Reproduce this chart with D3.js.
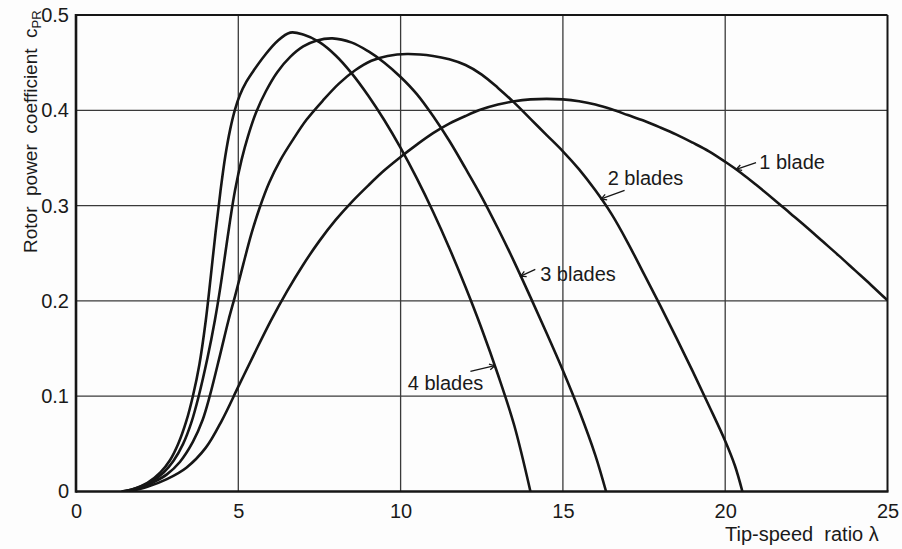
<!DOCTYPE html>
<html><head><meta charset="utf-8">
<script src="https://cdn.jsdelivr.net/npm/d3@7"></script>
<style>
body{margin:0;background:#fff}
text{font-family:"Liberation Sans",Arial,sans-serif;fill:#1a1a1a}
</style>
</head><body>
<svg id="chart" width="902" height="549"></svg>
<script>
// ---- data ----
const xTicks = [0, 5, 10, 15, 20, 25];
const xTickLabels = ["0", "5", "10", "15", "20", "25"];
const yTicks = [0, 0.1, 0.2, 0.3, 0.4, 0.5];
const yTickLabels = ["0", "0.1", "0.2", "0.3", "0.4", "0.5"];
const seriesNames = ["1 blade", "2 blades", "3 blades", "4 blades"];

const lambda1 = [1.6, 2.2, 2.8, 3.4, 4.0, 4.5, 5.0, 5.5, 6.0, 6.5, 7.0, 7.5, 8.0, 8.5, 9.0, 9.5, 10.0, 10.5, 11.0, 11.5, 12.0, 12.5, 13.0, 13.5, 14.0, 14.5, 15.0, 15.5, 16.0, 16.5, 17.0, 17.5, 18.0, 18.5, 19.0, 19.5, 20.0, 20.5, 21.0, 21.5, 22.0, 22.5, 23.0, 23.5, 24.0, 24.5, 25.0];
const cp1     = [0, 0.005, 0.013, 0.025, 0.046, 0.075, 0.110, 0.145, 0.179, 0.210, 0.238, 0.263, 0.285, 0.304, 0.321, 0.337, 0.351, 0.364, 0.376, 0.386, 0.394, 0.401, 0.406, 0.4095, 0.4115, 0.412, 0.4115, 0.4095, 0.406, 0.401, 0.395, 0.389, 0.382, 0.3745, 0.366, 0.357, 0.346, 0.334, 0.3205, 0.3065, 0.292, 0.2775, 0.2625, 0.2475, 0.232, 0.2165, 0.2005];

const lambda2 = [1.5, 2.0, 2.4, 2.8, 3.2, 3.6, 3.9, 4.12, 4.45, 4.7, 4.9, 5.15, 5.4, 5.65, 5.95, 6.3, 6.7, 7.1, 7.6, 8.1, 8.6, 9.1, 9.6, 10.2, 11.0, 11.5, 12.0, 12.5, 13.0, 13.5, 14.0, 14.5, 15.0, 15.5, 16.0, 16.5, 17.0, 17.5, 18.0, 18.5, 19.0, 19.5, 20.0, 20.3, 20.53];
const cp2     = [0, 0.004, 0.01, 0.018, 0.031, 0.052, 0.075, 0.1, 0.145, 0.18, 0.205, 0.238, 0.27, 0.297, 0.324, 0.348, 0.37, 0.39, 0.41, 0.428, 0.442, 0.452, 0.457, 0.459, 0.457, 0.4535, 0.4475, 0.4375, 0.4235, 0.408, 0.391, 0.374, 0.357, 0.338, 0.316, 0.291, 0.261, 0.228, 0.195, 0.161, 0.126, 0.09, 0.053, 0.027, 0];

const lambda3 = [1.45, 1.9, 2.3, 2.7, 3.0, 3.3, 3.55, 3.78, 4.05, 4.28, 4.45, 4.6, 4.75, 4.9, 5.1, 5.3, 5.55, 5.85, 6.2, 6.6, 7.0, 7.4, 7.9, 8.5, 9.0, 9.5, 10.0, 10.5, 11.0, 11.5, 12.0, 12.5, 13.0, 13.5, 14.0, 14.5, 15.0, 15.5, 16.0, 16.33];
const cp3     = [0, 0.004, 0.01, 0.02, 0.032, 0.05, 0.072, 0.1, 0.14, 0.18, 0.215, 0.25, 0.285, 0.316, 0.348, 0.373, 0.398, 0.42, 0.44, 0.456, 0.467, 0.473, 0.4755, 0.471, 0.462, 0.45, 0.435, 0.417, 0.394, 0.368, 0.339, 0.309, 0.276, 0.241, 0.204, 0.166, 0.127, 0.085, 0.038, 0];

const lambda4 = [1.4, 1.8, 2.2, 2.6, 2.9, 3.15, 3.4, 3.6, 3.8, 4.0, 4.15, 4.3, 4.45, 4.6, 4.75, 4.9, 5.05, 5.25, 5.5, 5.8, 6.2, 6.6, 7.0, 7.5, 8.0, 8.5, 9.0, 9.5, 10.0, 10.5, 11.0, 11.5, 12.0, 12.5, 13.0, 13.5, 14.0];
const cp4     = [0, 0.003, 0.009, 0.02, 0.033, 0.05, 0.074, 0.1, 0.133, 0.18, 0.225, 0.272, 0.315, 0.352, 0.38, 0.401, 0.416, 0.43, 0.443, 0.457, 0.4725, 0.4815, 0.4795, 0.4715, 0.4575, 0.4385, 0.4155, 0.3895, 0.3605, 0.3285, 0.2935, 0.2555, 0.2145, 0.1705, 0.1225, 0.0695, 0];

const seriesLambda = [lambda1, lambda2, lambda3, lambda4];
const seriesCp = [cp1, cp2, cp3, cp4];

// ---- layout ----
const svg = d3.select("#chart");
const pL = 76, pR = 887.5, pT = 15, pB = 491.5;
const x = d3.scaleLinear().domain([0, 25]).range([pL, pR]);
const y = d3.scaleLinear().domain([0, 0.5]).range([pB, pT]);
const ink = "#161616";

svg.append("rect").attr("width", 902).attr("height", 549).attr("fill", "#fdfdfd");

// grid
const g = svg.append("g");
g.selectAll("line.vx").data(xTicks.slice(1, -1)).join("line")
  .attr("x1", d => x(d)).attr("x2", d => x(d)).attr("y1", pT).attr("y2", pB)
  .attr("stroke", "#3a3a3a").attr("stroke-width", 1.3);
g.selectAll("line.hy").data(yTicks.slice(1, -1)).join("line")
  .attr("x1", pL).attr("x2", pR).attr("y1", d => y(d)).attr("y2", d => y(d))
  .attr("stroke", "#3a3a3a").attr("stroke-width", 1.3);

// frame
svg.append("line").attr("x1", pL).attr("x2", pR).attr("y1", pT).attr("y2", pT).attr("stroke", ink).attr("stroke-width", 2);
svg.append("line").attr("x1", pR).attr("x2", pR).attr("y1", pT).attr("y2", pB).attr("stroke", ink).attr("stroke-width", 2);

// axes via d3 axis generators (labels only, lines drawn separately)
const xAxis = d3.axisBottom(x).tickValues(xTicks).tickFormat((d, i) => xTickLabels[i]).tickSize(0).tickPadding(12);
const yAxis = d3.axisLeft(y).tickValues(yTicks).tickFormat((d, i) => yTickLabels[i]).tickSize(0).tickPadding(6);
const gx = svg.append("g").attr("transform", `translate(0,${pB})`).call(xAxis);
const gy = svg.append("g").attr("transform", `translate(${pL - 1},0)`).call(yAxis);
[gx, gy].forEach(a => {
  a.select(".domain").remove();
  a.selectAll("text").style("font-family", '"Liberation Sans",Arial,sans-serif').style("font-size", "20px").attr("fill", "#1a1a1a");
});

svg.append("line").attr("x1", pL).attr("x2", pR + 1).attr("y1", pB).attr("y2", pB).attr("stroke", ink).attr("stroke-width", 2.6);
svg.append("line").attr("x1", pL).attr("x2", pL).attr("y1", pT - 1).attr("y2", pB + 1.3).attr("stroke", ink).attr("stroke-width", 2.6);

// curves
svg.append("clipPath").attr("id", "plot").append("rect")
  .attr("x", pL).attr("y", pT).attr("width", pR - pL).attr("height", pB - pT);
const line = d3.line().x(d => x(d[0])).y(d => y(d[1])).curve(d3.curveCatmullRom.alpha(0.5));
seriesLambda.forEach((lam, i) => {
  const pts = lam.map((l, j) => [l, seriesCp[i][j]]);
  svg.append("path").datum(pts).attr("d", line).attr("fill", "none")
    .attr("stroke", ink).attr("stroke-width", 2.6).attr("stroke-linejoin", "round")
    .attr("clip-path", "url(#plot)");
});

// annotations (data coordinates)
const notes = [
  {name: seriesNames[0], from: [20.34, 0.338], to: [20.95, 0.345], tx: 21.05, ty: 0.338},
  {name: seriesNames[1], from: [16.18, 0.307], to: [16.9, 0.316], tx: 16.38, ty: 0.322},
  {name: seriesNames[2], from: [13.7, 0.226], to: [14.15, 0.233], tx: 14.3, ty: 0.221},
  {name: seriesNames[3], from: [12.9, 0.132], to: [12.15, 0.126], tx: 10.22, ty: 0.107}
];
notes.forEach(n => {
  const x1 = x(n.from[0]), y1 = y(n.from[1]), x2 = x(n.to[0]), y2 = y(n.to[1]);
  svg.append("line").attr("x1", x1).attr("y1", y1).attr("x2", x2).attr("y2", y2)
    .attr("stroke", ink).attr("stroke-width", 1.3);
  const ang = Math.atan2(y2 - y1, x2 - x1);
  const L = 6, s = 0.5;
  const p = [[x1 + L * Math.cos(ang + s), y1 + L * Math.sin(ang + s)], [x1, y1], [x1 + L * Math.cos(ang - s), y1 + L * Math.sin(ang - s)]];
  svg.append("path").attr("d", d3.line()(p)).attr("fill", "none").attr("stroke", ink).attr("stroke-width", 1.3);
  svg.append("text").attr("x", x(n.tx)).attr("y", y(n.ty)).attr("font-size", 20).text(n.name);
});

// axis titles
svg.append("text").attr("x", 725).attr("y", 541).attr("font-size", 20)
  .attr("xml:space", "preserve").text("Tip-speed  ratio λ");
const yt = svg.append("text").attr("transform", "translate(37,253) rotate(-90)")
  .attr("font-size", 19).attr("xml:space", "preserve");
yt.append("tspan").text("Rotor  power  coefficient  c");
yt.append("tspan").attr("font-size", 13).attr("dy", 4).text("PR");
</script>
</body></html>
